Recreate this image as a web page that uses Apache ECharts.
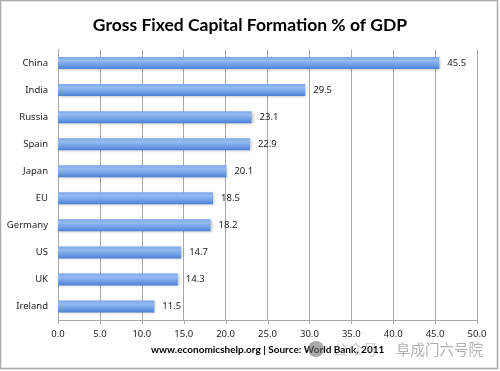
<!DOCTYPE html>
<html><head><meta charset="utf-8">
<style>html,body{margin:0;padding:0;background:#fff}#c{width:500px;height:371px}</style>
<script src="https://cdn.jsdelivr.net/npm/echarts@6/dist/echarts.min.js"></script>
</head><body><div id="c"></div>
<script>
const categories = ['China','India','Russia','Spain','Japan','EU','Germany','US','UK','Ireland'];
const values = [45.5,29.5,23.1,22.9,20.1,18.5,18.2,14.7,14.3,11.5];
const tickValues = [0,5,10,15,20,25,30,35,40,45,50];
const titleText = 'Gross Fixed Capital Formation % of GDP';
const sourceText = 'www.economicshelp.org | Source: World Bank, 2011';
const watermarkLeft = '公众号';
const watermarkRight = '阜成门六号院';
const axisFont = '"Noto Sans","Open Sans",sans-serif';
const lineColor = '#a8a8a8';
const chart = echarts.init(document.getElementById('c'), null, {renderer:'canvas'});
chart.setOption({
  animation:false,
  backgroundColor:'#fff',
  grid:{show:false,left:58,right:23,top:49.5,bottom:51,containLabel:false},
  xAxis:{type:'value',position:'bottom',min:0,max:50,interval:5,
    axisLine:{show:false},
    axisTick:{show:false},
    splitLine:{show:true,lineStyle:{color:lineColor,width:1}},
    axisLabel:{color:'#222',fontSize:9.5,fontFamily:axisFont,margin:9,formatter:v=>v.toFixed(1)}},
  yAxis:{type:'category',data:categories.slice().reverse(),
    axisLine:{show:true,onZero:false,lineStyle:{color:lineColor,width:1}},
    axisTick:{show:false},
    splitLine:{show:false},
    axisLabel:{color:'#222',fontSize:9.5,fontFamily:axisFont,margin:10,padding:[6,0,0,0]}},
  series:[{type:'bar',data:values.slice().reverse(),barWidth:12,
    itemStyle:{
      color:new echarts.graphic.LinearGradient(0,0,0,1,[
        {offset:0,color:'#7ba7ea'},{offset:0.3,color:'#94baf0'},{offset:0.7,color:'#6c9ce5'},{offset:1,color:'#4c80d4'}]),
      shadowColor:'rgba(0,0,0,0.28)',shadowBlur:3,shadowOffsetX:1,shadowOffsetY:1},
    label:{show:true,position:'right',distance:8,color:'#222',fontSize:9.5,fontFamily:axisFont,padding:[3,0,0,0],formatter:p=>p.value.toFixed(1)}
  }]
});
const baseY = 371 - 51;
const axisPx = v => Math.round(chart.convertToPixel({xAxisIndex:0}, v)) + 0.5;
const axisMarks = [
  {type:'line',z:4,shape:{x1:axisPx(0),y1:baseY+0.5,x2:axisPx(50),y2:baseY+0.5},style:{stroke:lineColor,lineWidth:1}}
].concat(tickValues.map(v => ({type:'line',z:4,
  shape:{x1:axisPx(v),y1:baseY,x2:axisPx(v),y2:baseY+4},style:{stroke:lineColor,lineWidth:1}})));
chart.setOption({graphic:[
    {type:'rect',z:-1,shape:{x:0.5,y:0.5,width:497,height:368},style:{fill:'#fff',stroke:'#a9a9a9',lineWidth:1.5}},
    {type:'text',left:'center',top:16,z:5,style:{text:titleText,fill:'#000',font:'bold 17.5px Lato,"Open Sans",sans-serif'}},
    {type:'text',x:151,y:345,z:5,style:{text:sourceText,fill:'#000',font:'bold 10px Lato,"Open Sans",sans-serif'}},
    {type:'circle',z:6,shape:{cx:316,cy:349,r:8},style:{fill:'rgba(110,110,110,0.6)'}},
    {type:'text',x:333,y:342,z:6,style:{text:watermarkLeft,fill:'rgba(150,150,150,0.45)',font:'15px "Noto Sans CJK SC"'}},
    {type:'text',x:396,y:342,z:6,style:{text:watermarkRight,fill:'rgba(150,150,150,0.75)',font:'14.5px "Noto Sans CJK SC"'}}
  ].concat(axisMarks)});
</script></body></html>
